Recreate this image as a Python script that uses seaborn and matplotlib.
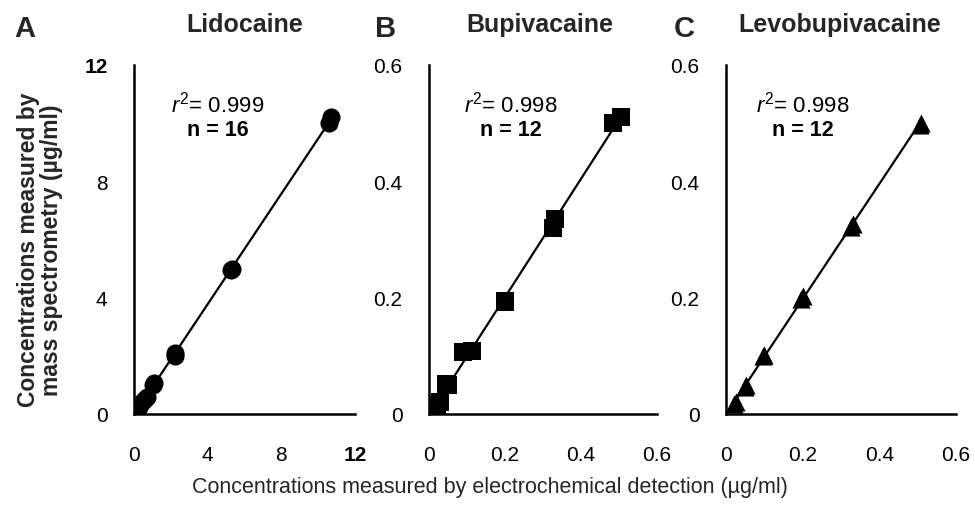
import numpy as np
import pandas as pd
import matplotlib
matplotlib.use("Agg")
import matplotlib.pyplot as plt
import seaborn as sns

# ---- data ----
lido_x = [0.02, 0.05, 0.1, 0.2, 0.25, 0.5, 0.6, 0.7, 1.05, 1.1, 2.2, 2.25, 5.25, 5.3, 10.6, 10.7]
lido_y = [0.02, 0.05, 0.1, 0.2, 0.25, 0.45, 0.5, 0.6, 1.0, 1.05, 2.0, 2.1, 4.95, 5.0, 10.0, 10.2]

bupi_x = [0.02, 0.03, 0.045, 0.05, 0.09, 0.113, 0.199, 0.2, 0.325, 0.332, 0.485, 0.506]
bupi_y = [0.015, 0.02, 0.052, 0.05, 0.106, 0.108, 0.193, 0.195, 0.319, 0.336, 0.50, 0.511]

levo_x = [0.022, 0.025, 0.05, 0.053, 0.097, 0.1, 0.195, 0.2, 0.325, 0.33, 0.505, 0.508]
levo_y = [0.018, 0.02, 0.047, 0.049, 0.1, 0.102, 0.197, 0.203, 0.322, 0.327, 0.497, 0.50]

titles = ["Lidocaine", "Bupivacaine", "Levobupivacaine"]
letters = ["A", "B", "C"]
r2_texts = ["0.999", "0.998", "0.998"]
n_texts = ["16", "12", "12"]
ticks_A = [0, 4, 8, 12]
ticks_BC = [0, 0.2, 0.4, 0.6]
tick_labels_A = ["0", "4", "8", "12"]
tick_labels_BC = ["0", "0.2", "0.4", "0.6"]

sns.set_theme(style="white")
plt.rcParams["font.family"] = ["Liberation Sans", "DejaVu Sans"]
plt.rcParams["mathtext.fontset"] = "custom"
plt.rcParams["mathtext.rm"] = "Liberation Sans"
plt.rcParams["mathtext.it"] = "Liberation Sans:italic"
plt.rcParams["mathtext.bf"] = "Liberation Sans:bold"

fig = plt.figure(figsize=(9.75, 5.06), dpi=100)

W, H = 975.0, 506.0
bottom_px, top_px = 415, 66
panels = [
    (134, 355),
    (429, 657),
    (726, 956),
]
data = [(lido_x, lido_y, "o", 170), (bupi_x, bupi_y, "s", 170), (levo_x, levo_y, "^", 170)]
ann_x = [0.38, 0.36, 0.335]

for i, ((l, r), (xs, ys, mk, ms)) in enumerate(zip(panels, data)):
    ax = fig.add_axes([l / W, 1 - bottom_px / H, (r - l) / W, (bottom_px - top_px) / H])
    df = pd.DataFrame({"x": xs, "y": ys})
    sns.regplot(data=df, x="x", y="y", ax=ax, ci=None, marker=mk, color="black",
                scatter_kws={"s": ms, "alpha": 1, "linewidths": 0, "zorder": 3},
                line_kws={"lw": 1.6, "color": "black"})
    if i == 0:
        ax.set_xlim(0, 12)
        ax.set_ylim(0, 12)
        ax.set_xticks(ticks_A)
        ax.set_yticks(ticks_A)
        ax.set_xticklabels(tick_labels_A)
        ax.set_yticklabels(tick_labels_A)
    else:
        ax.set_xlim(0, 0.6)
        ax.set_ylim(0, 0.6)
        ax.set_xticks(ticks_BC)
        ax.set_yticks(ticks_BC)
        ax.set_xticklabels(tick_labels_BC)
        ax.set_yticklabels(tick_labels_BC)
    for lab in ax.get_xticklabels() + ax.get_yticklabels():
        lab.set_fontsize(15)
        lab.set_color("black")
        if i == 0 and lab.get_text() == "12":
            lab.set_fontweight("bold")
    ax.tick_params(axis="x", length=0, pad=22)
    ax.tick_params(axis="y", length=0, pad=19)
    ax.set_xlabel("")
    ax.set_ylabel("")
    for s in ["top", "right"]:
        ax.spines[s].set_visible(False)
    for s in ["left", "bottom"]:
        ax.spines[s].set_color("black")
        ax.spines[s].set_linewidth(1.8)
    ax.set_facecolor("white")
    ax.text(ann_x[i], 0.89, r"$\mathit{r}^{2}$= " + r2_texts[i], transform=ax.transAxes,
            ha="center", va="center", fontsize=16, color="black")
    ax.text(ann_x[i], 0.815, "n = " + n_texts[i], transform=ax.transAxes,
            ha="center", va="center", fontsize=15.5, fontweight="bold", color="black")

# titles and panel letters
title_x = [245, 540, 840]
letter_x = [25, 386, 684]
for t, tx, lt, lx in zip(titles, title_x, letters, letter_x):
    fig.text(tx / W, 1 - 25 / H, t, ha="center", va="center", fontsize=18, fontweight="bold")
    fig.text(lx / W, 1 - 29 / H, lt, ha="center", va="center", fontsize=21, fontweight="bold")

fig.text(40 / W, 1 - 250 / H, "Concentrations measured by\nmass spectrometry (µg/ml)",
         rotation=90, ha="center", va="center", fontsize=16.5, fontweight="bold",
         linespacing=1.0)
fig.text(490 / W, 1 - 488 / H,
         "Concentrations measured by electrochemical detection (µg/ml)",
         ha="center", va="center", fontsize=15.5)

fig.savefig("out.png", dpi=100, facecolor="white")
